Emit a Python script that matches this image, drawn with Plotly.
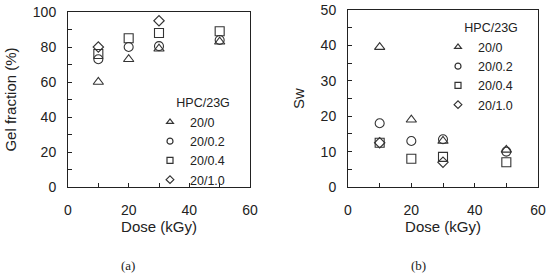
import plotly.graph_objects as go

dose = [10, 20, 30, 50]
series_names = ["20/0", "20/0.2", "20/0.4", "20/1.0"]
symbols = ["triangle-up-open", "circle-open", "square-open", "diamond-open"]
sizes = [9, 9, 9, 8]

gel_20_0 = [60, 73, 79, 83]
gel_20_02 = [73, 80, 80.5, 84]
gel_20_04 = [76, 85, 88, 89]
gel_20_10 = [80, None, 95, None]

sw_20_0 = [39.5, 19, 13, 10.5]
sw_20_02 = [18, 13, 13.5, 10]
sw_20_04 = [12.5, 8, 8.5, 7]
sw_20_10 = [12.5, None, 7, None]

gel = [gel_20_0, gel_20_02, gel_20_04, gel_20_10]
sw = [sw_20_0, sw_20_02, sw_20_04, sw_20_10]

col = "#333333"
FONT = "Liberation Sans, Arial, sans-serif"
fig = go.Figure()

for (xa, ya, lg, data) in [("x", "y", "legend", gel), ("x2", "y2", "legend2", sw)]:
    for name, sym, sz, vals in zip(series_names, symbols, sizes, data):
        fig.add_trace(go.Scatter(x=dose, y=vals, mode="markers", name=name, showlegend=False,
                                 marker=dict(symbol=sym, size=sz, color=col, line=dict(width=1.1, color=col)),
                                 xaxis=xa, yaxis=ya))
    # legend entries (no points of their own)
    for name, sym in zip(series_names, symbols):
        fig.add_trace(go.Scatter(x=[None], y=[None], mode="markers", name=name, showlegend=True,
                                 marker=dict(symbol=sym, size=6, color=col, line=dict(width=1.2, color=col)),
                                 xaxis=xa, yaxis=ya, legend=lg))

H, W = 276, 550
axis_common = dict(showline=True, linecolor="#222", linewidth=1, mirror=True, automargin=False,
                   ticks="inside", ticklen=4, tickcolor="#222", showgrid=False, zeroline=False,
                   tickfont=dict(family=FONT, size=14, color="#222"),
                   minor=dict(ticks="inside", ticklen=4, tickcolor="#222", dtick=10))
tfont = dict(family=FONT, size=15, color="#222")
lfont = dict(size=12.5, family=FONT, color="#222")
NB = "\u00a0" * 7

fig.update_layout(
    width=W, height=H, margin=dict(l=0, r=0, t=0, b=0),
    paper_bgcolor="white", plot_bgcolor="white", showlegend=True,
    font=dict(family=FONT, color="#222"),
    xaxis=dict(domain=[68 / W, 250 / W], range=[0, 60], dtick=20, anchor="y", ticklabelstandoff=10,
               title=dict(text="Dose (kGy)", font=tfont, standoff=4), **axis_common),
    yaxis=dict(domain=[1 - 187 / H, 1 - 12 / H], range=[0, 100], dtick=20, anchor="x", ticklabelstandoff=8,
               title=dict(text="Gel fraction (%)", font=tfont, standoff=12), **axis_common),
    xaxis2=dict(domain=[348 / W, 538 / W], range=[0, 60], dtick=20, anchor="y2", ticklabelstandoff=10,
                title=dict(text="Dose (kGy)", font=tfont, standoff=4), **axis_common),
    yaxis2=dict(domain=[1 - 187 / H, 1 - 10 / H], range=[0, 50], dtick=10, anchor="x2", ticklabelstandoff=8,
                title=dict(text="Sw", font=tfont, standoff=12), **axis_common),
    legend=dict(x=150 / W, y=1 - 91 / H, xanchor="left", yanchor="top",
                bgcolor="rgba(0,0,0,0)", font=lfont,
                title=dict(text=NB + "HPC/23G", side="top", font=lfont),
                itemwidth=30, tracegroupgap=0),
    legend2=dict(x=438 / W, y=1 - 16 / H, xanchor="left", yanchor="top",
                 bgcolor="rgba(0,0,0,0)", font=lfont,
                 title=dict(text=NB + "HPC/23G", side="top", font=lfont),
                 itemwidth=30, tracegroupgap=0),
    annotations=[
        dict(text="(a)", x=128 / W, y=1 - 265 / H, xref="paper", yref="paper", showarrow=False,
             xanchor="center", yanchor="middle",
             font=dict(family="Liberation Serif, Times New Roman, serif", size=13, color="#222")),
        dict(text="(b)", x=418 / W, y=1 - 265 / H, xref="paper", yref="paper", showarrow=False,
             xanchor="center", yanchor="middle",
             font=dict(family="Liberation Serif, Times New Roman, serif", size=13, color="#222")),
    ],
)
fig.update_layout(yaxis2_minor=dict(dtick=5))
fig.write_html("out.html", config={"displayModeBar": False},
               post_script="document.body.style.margin='0';document.body.style.padding='0';")
